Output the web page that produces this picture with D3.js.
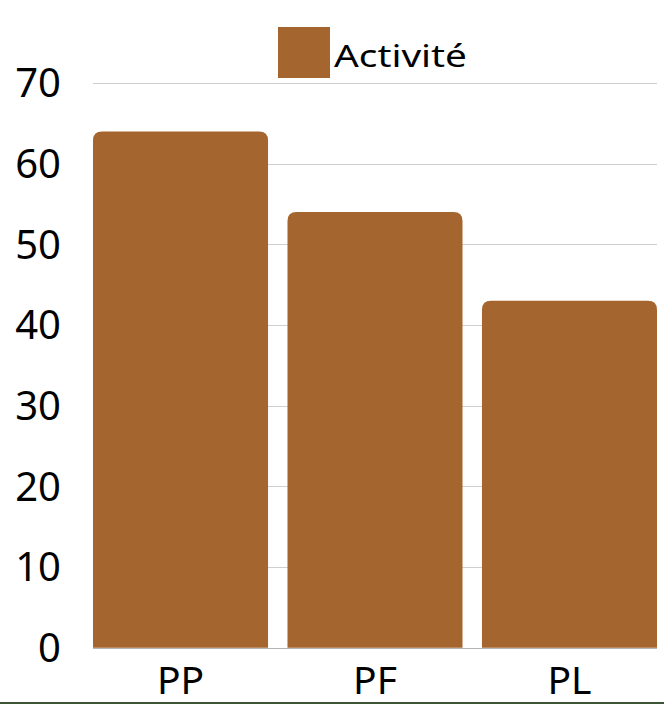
<!DOCTYPE html>
<html><head><meta charset="utf-8">
<script src="https://cdn.jsdelivr.net/npm/d3@7"></script>
<style>html,body{margin:0;padding:0;background:#fff;}svg{display:block;}</style>
</head><body>
<svg id="chart" width="664" height="704"></svg>
<script>
const categories = ["PP", "PF", "PL"];
const values = [64, 54, 43];
const yTicks = [0, 10, 20, 30, 40, 50, 60, 70];
const seriesName = "Activité";

const W = 664, H = 704;
const m = {left: 93, right: 7, top: 83, bottom: 56};
const svg = d3.select("#chart");
const color = "#A5652E";
const font = "'Noto Sans', sans-serif";

const x = d3.scaleBand().domain(categories).range([m.left, W - m.right]).paddingInner(0.1).paddingOuter(0);
const y = d3.scaleLinear().domain([0, 70]).range([H - m.bottom - 0.3, m.top]);

// gridlines
svg.append("g").selectAll("line").data(yTicks).join("line")
  .attr("x1", m.left).attr("x2", W - m.right)
  .attr("y1", d => Math.round(y(d)) + 0.5).attr("y2", d => Math.round(y(d)) + 0.5)
  .attr("stroke", d => d === 0 ? "#b4b4b4" : "#cfcfcf").attr("stroke-width", 1);

// y tick labels
svg.append("g").selectAll("text").data(yTicks).join("text")
  .attr("x", 61).attr("y", d => y(d)).attr("dy", "0.36em")
  .attr("text-anchor", "end").attr("font-family", font).attr("font-size", 40)
  .attr("fill", "#000").text(d => d);

// bars with rounded top corners
const r = 9;
function barPath(x0, w, yTop, yBot) {
  return `M${x0},${yBot}V${yTop + r}Q${x0},${yTop} ${x0 + r},${yTop}H${x0 + w - r}Q${x0 + w},${yTop} ${x0 + w},${yTop + r}V${yBot}Z`;
}
svg.append("g").selectAll("path").data(values).join("path")
  .attr("d", (d, i) => barPath(x(categories[i]), x.bandwidth(), y(d), y(0)))
  .attr("fill", color);

// x labels
svg.append("g").selectAll("text").data(categories).join("text")
  .attr("x", d => x(d) + x.bandwidth() / 2).attr("y", 694)
  .attr("text-anchor", "middle").attr("font-family", font).attr("font-size", 39)
  .attr("fill", "#000").text(d => d);

// legend
svg.append("rect").attr("x", 278).attr("y", 27).attr("width", 52).attr("height", 51).attr("fill", color);
svg.append("text").attr("x", 334).attr("y", 67)
  .attr("font-family", font).attr("font-size", 31).attr("fill", "#000")
  .attr("textLength", 133).attr("lengthAdjust", "spacingAndGlyphs")
  .text(seriesName);

// bottom border line
svg.append("line").attr("x1", 0).attr("x2", W).attr("y1", 703).attr("y2", 703)
  .attr("stroke", "#3B5536").attr("stroke-width", 2);
</script>
</body></html>
